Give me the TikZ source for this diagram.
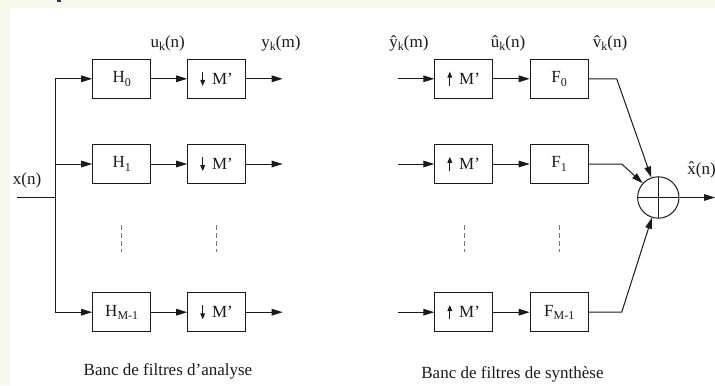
\documentclass[tikz,border=0pt]{standalone}
\usepackage{fontspec}
\setmainfont{Liberation Serif}
\usetikzlibrary{arrows.meta}
\definecolor{cpaper}{HTML}{F7F7EC}
\definecolor{cnavy}{HTML}{1F3A68}
\definecolor{cink}{HTML}{1A1A1A}
\newcommand{\lowidx}[1]{\raisebox{-0.45ex}{\fontsize{6}{6}\selectfont #1}}

\begin{document}
\begin{tikzpicture}[x=0.5pt, y=-0.5pt, font=\fontsize{8.5}{10}\selectfont, line width=0.5pt, cink,
  filt/.style={draw, rectangle, minimum width=29pt, minimum height=19.5pt, inner sep=0pt},
  sig/.style={-{Triangle[length=5.5pt, width=3.3pt]}},
  rate/.style={-{Triangle[length=3pt, width=2.3pt]}, line width=0.6pt},
  vdots/.style={cink!60, line width=0.4pt, dash pattern=on 2.5pt off 1.5pt},
  lbl/.style={anchor=base, inner sep=0pt}]
  % page: pale strip on top and left, white sheet
  \useasboundingbox (0,0) rectangle (715,385);
  \fill[cpaper] (0,0) rectangle (715,385);
  \fill[white] (10,8) rectangle (715,385);
  \fill[cnavy] (57,0) rectangle (61,2.5);
%% ------------------------------------------------------------------ analysis
  \node[filt] (h0) at (121.7,78.8)  {H\lowidx{0}};
  \node[filt] (h1) at (121.7,164)   {H\lowidx{1}};
  \node[filt] (hm) at (121.7,312.2) {H\lowidx{M-1}};
  \node[filt] (d0) at (216.7,78.8)  {\hspace{5.8pt}M’};
  \node[filt] (d1) at (216.7,164)   {\hspace{5.8pt}M’};
  \node[filt] (dm) at (216.7,312.2) {\hspace{5.8pt}M’};
  \coordinate (in) at (17,197);
  \coordinate (split) at (55,197);
  \coordinate (y0) at (282.7,78.8);
  \coordinate (y1) at (282.7,164);
  \coordinate (ym) at (282.7,312.2);
  \node[lbl] (xn) at (27,184.5) {x(n)};
  \node[lbl] (uk) at (167.7,47) {u\lowidx{k}(n)};
  \node[lbl] (yk) at (281,47) {y\lowidx{k}(m)};
  \draw (in) -- (split);
  \foreach \r in {0,1,m} {
    \draw[sig] (split) |- (h\r);
    \draw[sig] (h\r) -- (d\r);
    \draw[sig] (d\r) -- (y\r);
    \draw[rate] ([xshift=-7pt, yshift=3.6pt]d\r.center) -- ([xshift=-7pt, yshift=-3.6pt]d\r.center);
  }
  \draw[vdots] (121.7,225) -- (121.7,252);
  \draw[vdots] (216.7,225) -- (216.7,252);
  \node[lbl] (capa) at (168,375) {Banc de filtres d’analyse};
%% ------------------------------------------------------------------ synthesis
  \node[filt] (e0) at (463.8,78.8)  {\hspace{5.8pt}M’};
  \node[filt] (e1) at (463.8,164)   {\hspace{5.8pt}M’};
  \node[filt] (em) at (463.8,312.2) {\hspace{5.8pt}M’};
  \node[filt] (f0) at (559.2,78.8)  {F\lowidx{0}};
  \node[filt] (f1) at (559.2,164)   {F\lowidx{1}};
  \node[filt] (fm) at (559.2,312.2) {F\lowidx{M-1}};
  \node[draw, circle, minimum size=20.7pt, inner sep=0pt,
    path picture={\draw (path picture bounding box.north) -- (path picture bounding box.south)
                        (path picture bounding box.west) -- (path picture bounding box.east);}]
    (sum) at (658.3,197.5) {};
  \coordinate (v0) at (397.7,78.8);
  \coordinate (v1) at (397.7,164);
  \coordinate (vm) at (397.7,312.2);
  \coordinate (k0) at (616.7,78.8);
  \coordinate (k1) at (621.7,164);
  \coordinate (km) at (621.7,312.2);
  \coordinate (out) at (715,197.5);
  \node[lbl] (yh) at (409,47) {\^{y}\lowidx{k}(m)};
  \node[lbl] (uh) at (508,47) {\^{u}\lowidx{k}(n)};
  \node[lbl] (vh) at (610,47) {\^{v}\lowidx{k}(n)};
  \node[lbl] (xh) at (701.5,174) {\^{x}(n)};
  \foreach \r in {0,1,m} {
    \draw[sig] (v\r) -- (e\r);
    \draw[sig] (e\r) -- (f\r);
    \draw[sig] (f\r) -- (k\r) -- (sum);
    \draw[rate] ([xshift=-7pt, yshift=-3.6pt]e\r.center) -- ([xshift=-7pt, yshift=3.6pt]e\r.center);
  }
  \draw[sig] (sum) -- (out);
  \draw[vdots] (464,225) -- (464,252);
  \draw[vdots] (559,225) -- (559,252);
  \node[lbl] (caps) at (512.5,378) {Banc de filtres de synthèse};
\end{tikzpicture}
\end{document}
